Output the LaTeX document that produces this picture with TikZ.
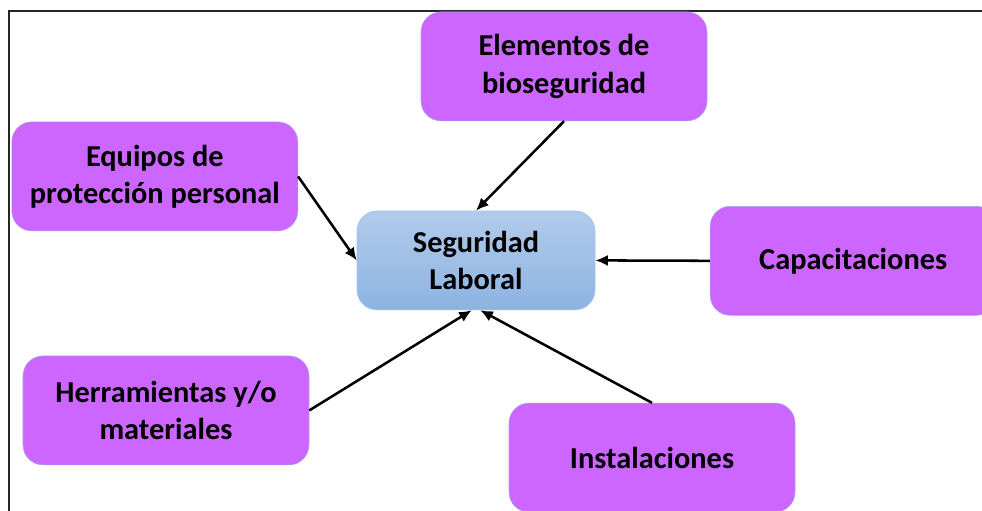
\documentclass[tikz,border=0pt]{standalone}
\usepackage{fontspec}
\setmainfont{Carlito}
\usetikzlibrary{arrows.meta}
\definecolor{lila}{HTML}{CC66FF}
\definecolor{lilaborde}{HTML}{A9A3F5}
\definecolor{azularriba}{HTML}{B1CBEA}
\definecolor{azulabajo}{HTML}{8DB3E2}

\begin{document}
\begin{tikzpicture}
	\tikzstyle{factor} = [rectangle, draw=lilaborde, fill=lila, text centered, rounded corners=0.5cm, minimum width=7.15cm, minimum height=2.725cm, align=center, font=\fontsize{21.6}{26.5}\selectfont\bfseries]
	\tikzstyle{central} = [rectangle, draw=azulabajo!80, top color=azularriba, bottom color=azulabajo, text centered, rounded corners=0.5cm, minimum width=5.95cm, minimum height=2.475cm, align=center, font=\fontsize{21.6}{26.5}\selectfont\bfseries]
	\tikzstyle{connector} = [draw, line width=1.8pt, -{Latex[length=9pt,width=8pt]}]
\useasboundingbox (0,0) rectangle (24.55,-12.75);
\draw [line width=1.2pt, black!85] (0.225,-14) -- (0.225,-0.275) -- (26,-0.275);
\node [central] at (11.9,-6.51) (seg) {Seguridad\\Laboral};
\node [factor] at (14.1,-1.66) (bio) {Elementos de\\bioseguridad};
\node [factor] at (3.87,-4.41) (epp) {Equipos de\\protección personal};
\node [factor] at (21.33,-6.52) (cap) {Capacitaciones};
\node [factor] at (4.15,-10.26) (herr) {Herramientas y/o\\materiales};
\node [factor] at (16.3,-11.44) (inst) {Instalaciones};
\path [connector] (bio.south) -- (seg.north);
\path [connector] (epp.east) -- (seg.west);
\path [connector] (cap.west) -- (seg.east);
\path [connector] (herr.east) -- ([xshift=-3pt]seg.south);
\path [connector] (inst.north) -- ([xshift=3pt]seg.south);
\end{tikzpicture}
\end{document}
